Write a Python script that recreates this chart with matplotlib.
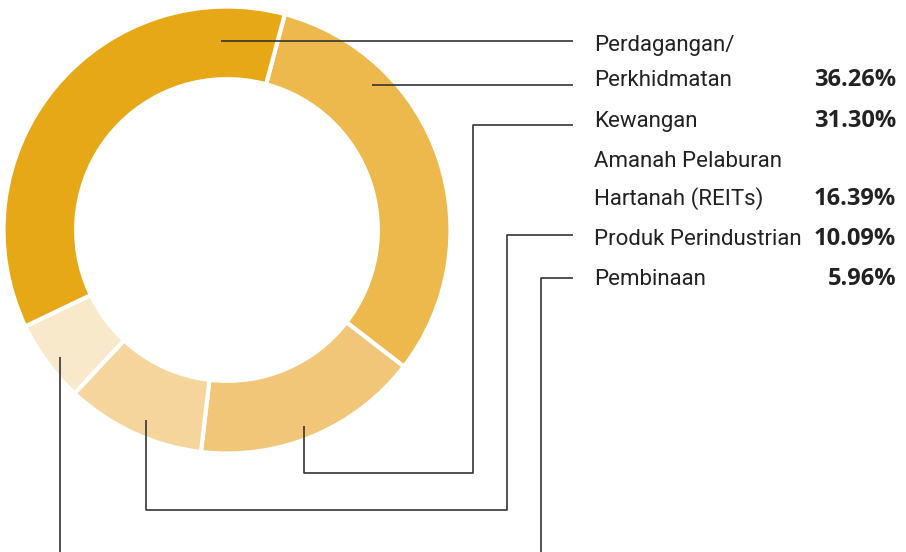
import matplotlib
matplotlib.use("Agg")
import matplotlib.pyplot as plt

# Sector share, clockwise from the top
sectors = ["Kewangan", "Amanah Pelaburan Hartanah (REITs)", "Produk Perindustrian",
           "Pembinaan", "Perdagangan/Perkhidmatan"]
shares = [31.30, 16.39, 10.09, 5.96, 36.26]
colors = ["#EDB84C", "#F2C679", "#F6D59C", "#F9E9CB", "#E6A816"]

# Legend rows on the right (label lines, percentage)
legend_rows = [
    (["Perdagangan/", "Perkhidmatan"], "36.26%"),
    (["Kewangan"], "31.30%"),
    (["Amanah Pelaburan", "Hartanah (REITs)"], "16.39%"),
    (["Produk Perindustrian"], "10.09%"),
    (["Pembinaan"], "5.96%"),
]

W, H = 906, 552
CX, CY, R = 227, 230, 223.5


def px(x, y):
    # pixel position -> data coords of the pie axes
    return (x - CX) / R, (CY - y) / R


fig = plt.figure(figsize=(W / 100, H / 100), dpi=100)
ax = fig.add_axes([0, 0, 1, 1])
ax.pie(shares, colors=colors, startangle=75, counterclock=False, radius=1,
       wedgeprops=dict(width=0.325, edgecolor="white", linewidth=3))
ax.set_xlim(px(0, 0)[0], px(W, 0)[0])
ax.set_ylim(px(0, H)[1], px(0, 0)[1])
ax.set_aspect("equal")
ax.axis("off")

# leader lines (pixel paths)
leaders = [
    [(221, 40.5), (573, 40.5)],
    [(372, 84.5), (573, 84.5)],
    [(304, 426), (304, 473), (472.5, 473), (472.5, 124.5), (573, 124.5)],
    [(146, 420), (146, 509.5), (507, 509.5), (507, 234.5), (573, 234.5)],
    [(541, 560), (541, 277.5), (573, 277.5)],
    [(60, 357), (60, 560)],
]
for path in leaders:
    xs, ys = zip(*[px(x, y) for x, y in path])
    ax.plot(xs, ys, color="#333333", lw=1.2, solid_capstyle="butt")

row_y = [[51, 86], [127], [167, 205], [245], [285]]
for (lines, pct), ys in zip(legend_rows, row_y):
    for t, y in zip(lines, ys):
        ax.text(*px(594, y), t, fontsize=16, family=["Roboto", "DejaVu Sans"],
                color="#222222", ha="left", va="baseline")
    ax.text(*px(896, ys[-1]), pct, fontsize=17, family=["Open Sans", "DejaVu Sans"],
            color="#222222", fontweight="bold", ha="right", va="baseline")

fig.savefig("out.png", dpi=100)
